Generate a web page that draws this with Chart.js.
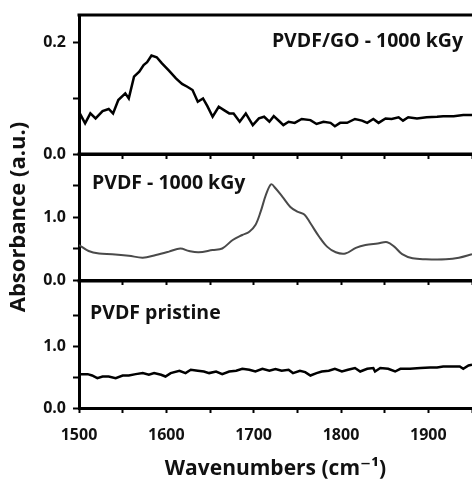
<!DOCTYPE html>
<html><head><meta charset="utf-8">
<script src="https://cdn.jsdelivr.net/npm/chart.js@4/dist/chart.umd.min.js"></script>
<style>
html,body{margin:0;padding:0;background:#fff;}
#wrap{position:relative;width:472px;height:482px;overflow:hidden;background:#fff;}
.panel{position:absolute;left:0;top:0;width:472px;height:482px;}
</style></head><body>
<div id="wrap">
<div class="panel"><canvas id="c1"></canvas></div>
<div class="panel"><canvas id="c2"></canvas></div>
<div class="panel"><canvas id="c3"></canvas></div>
</div>
<script>
// ---- data ----
const xTickValues = [1500,1550,1600,1650,1700,1750,1800,1850,1900,1950];
const xTickLabels = [1500,1600,1700,1800,1900];

const goLabel = 'PVDF/GO - 1000 kGy';
const goWn  = [1500,1502,1507,1513,1519,1527,1534,1539,1545,1553,1557,1563,1569,1574,1578,1583,1589,1595,1603,1611,1618,1624,1630,1636,1642,1647,1653,1660,1666,1672,1677,1684,1691,1699,1706,1712,1718,1723,1730,1734,1740,1747,1755,1765,1772,1780,1788,1793,1799,1807,1816,1824,1830,1837,1843,1851,1858,1866,1871,1877,1887,1898,1910,1917,1929,1940,1950];
const goAbs = [0.076,0.070,0.055,0.073,0.064,0.077,0.081,0.073,0.097,0.109,0.100,0.139,0.148,0.160,0.165,0.177,0.174,0.163,0.150,0.136,0.126,0.121,0.115,0.094,0.100,0.086,0.067,0.085,0.079,0.073,0.073,0.058,0.073,0.052,0.064,0.067,0.058,0.068,0.058,0.052,0.058,0.056,0.063,0.061,0.054,0.058,0.056,0.050,0.056,0.056,0.063,0.060,0.056,0.063,0.056,0.064,0.063,0.066,0.060,0.066,0.064,0.066,0.067,0.068,0.068,0.070,0.070];
const goYTicks = [0, 0.1, 0.2];
const goYLabels = [0, 0.2];

const irrLabel = 'PVDF - 1000 kGy';
const irrWn  = [1500,1511,1523,1538,1557,1573,1588,1603,1616,1626,1637,1653,1664,1676,1687,1695,1702,1708,1714,1720,1725,1733,1742,1750,1758,1765,1775,1784,1794,1805,1817,1828,1842,1853,1861,1870,1882,1897,1920,1935,1950];
const irrAbs = [0.556,0.46,0.42,0.41,0.386,0.354,0.397,0.45,0.50,0.46,0.44,0.476,0.50,0.635,0.714,0.767,0.873,1.085,1.35,1.52,1.456,1.32,1.16,1.085,1.04,0.90,0.687,0.53,0.44,0.42,0.51,0.556,0.58,0.60,0.53,0.41,0.344,0.33,0.33,0.354,0.41];
const irrYTicks = [0, 0.5, 1.0, 1.5];
const irrYLabels = [0, 1.0];

const prLabel = 'PVDF pristine';
const prWn  = [1500,1502,1510,1515,1521,1527,1534,1542,1550,1557,1565,1573,1580,1586,1594,1599,1605,1615,1622,1628,1636,1643,1649,1657,1664,1672,1680,1687,1695,1702,1710,1718,1725,1732,1740,1745,1753,1759,1765,1772,1778,1786,1793,1801,1808,1816,1822,1830,1837,1839,1845,1854,1862,1868,1879,1891,1902,1910,1917,1927,1936,1940,1946,1950];
const prAbs = [0.55,0.552,0.552,0.530,0.487,0.513,0.513,0.487,0.530,0.530,0.552,0.569,0.541,0.569,0.541,0.513,0.569,0.607,0.569,0.623,0.607,0.595,0.569,0.595,0.552,0.595,0.607,0.639,0.623,0.595,0.639,0.607,0.635,0.607,0.623,0.569,0.607,0.585,0.530,0.569,0.595,0.607,0.639,0.595,0.623,0.651,0.595,0.639,0.651,0.595,0.651,0.639,0.595,0.639,0.639,0.651,0.661,0.661,0.677,0.677,0.677,0.639,0.693,0.705];
const prYTicks = [0, 0.5, 1.0, 1.5];
const prYLabels = [0, 1.0];

const xTitle = 'Wavenumbers (cm\u207B\u00B9)';
const yTitle = 'Absorbance (a.u.)';

// ---- rendering ----
const FAMILY = '"Open Sans", "DejaVu Sans", sans-serif';
const INK = '#111';

const framePlugin = {
  id: 'frameTop',
  afterDatasetsDraw(chart) {
    const a = chart.chartArea, ctx = chart.ctx;
    ctx.save();
    ctx.strokeStyle = '#000';
    ctx.lineWidth = 3;
    ctx.beginPath();
    ctx.moveTo(a.left - 1.5, a.top);
    ctx.lineTo(a.right, a.top);
    ctx.stroke();
    ctx.restore();
  }
};
const labelPlugin = {
  id: 'panelText',
  afterDatasetsDraw(chart, args, opts) {
    if (!opts || !opts.text) return;
    const a = chart.chartArea, ctx = chart.ctx;
    ctx.save();
    ctx.fillStyle = INK;
    ctx.font = 'bold ' + opts.size + 'px ' + FAMILY;
    ctx.textAlign = opts.align;
    ctx.textBaseline = 'middle';
    const x = opts.align === 'right' ? a.right - opts.dx : a.left + opts.dx;
    ctx.fillText(opts.text, x, a.top + opts.dy);
    ctx.restore();
  }
};

function makePanel(id, cfg) {
  const pts = cfg.wn.map((w, i) => ({x: w, y: cfg.abs[i]}));
  return new Chart(document.getElementById(id), {
    type: 'line',
    data: { datasets: [{ data: pts, borderColor: cfg.color, borderWidth: cfg.lw, pointRadius: 0, pointHoverRadius: 0, tension: cfg.tension, fill: false }] },
    options: {
      responsive: true, maintainAspectRatio: false, animation: false, events: [],
      layout: { autoPadding: false, padding: { left: 0, right: 0, top: cfg.top, bottom: cfg.padBottom } },
      plugins: {
        legend: { display: false }, tooltip: { enabled: false },
        panelText: { text: cfg.label, align: cfg.labelAlign, dx: cfg.labelDx, dy: cfg.labelDy, size: cfg.labelSize }
      },
      scales: {
        x: {
          type: 'linear', min: 1500, max: 1950,
          afterBuildTicks: s => { s.ticks = xTickValues.map(v => ({value: v})); },
          grid: { drawOnChartArea: false, drawTicks: true, tickLength: 5, tickWidth: 2, tickColor: '#000' },
          border: { display: true, color: '#000', width: 3 },
          ticks: { autoSkip: false, maxRotation: 0, minRotation: 0, padding: 13, color: INK,
                   font: { family: FAMILY, size: 16, weight: 'bold' },
                   callback: v => (cfg.showX && xTickLabels.includes(v)) ? String(v) : '' },
          title: { display: cfg.showX, text: xTitle, color: INK, padding: {top: 0, bottom: 0},
                   font: { family: FAMILY, size: 21, weight: 'bold' } },
          afterFit: s => { s.height = cfg.xh; s.paddingLeft = 0; s.paddingRight = 0; }
        },
        y: {
          min: 0, max: cfg.ymax,
          afterBuildTicks: s => { s.ticks = cfg.yTicks.map(v => ({value: v})); },
          grid: { drawOnChartArea: false, drawTicks: true, tickLength: 6, tickWidth: 2, tickColor: '#000' },
          border: { display: true, color: '#000', width: 3 },
          ticks: { autoSkip: false, padding: 7, color: INK,
                   font: { family: FAMILY, size: 16, weight: 'bold' },
                   callback: v => cfg.yLabels.includes(v) ? v.toFixed(1) : '' },
          title: { display: cfg.showY, text: yTitle, color: INK, padding: {top: 6, bottom: 0},
                   font: { family: FAMILY, size: 22, weight: 'bold' } },
          afterFit: s => { s.width = 79; s.paddingTop = 0; s.paddingBottom = 0; }
        }
      }
    },
    plugins: [framePlugin, labelPlugin]
  });
}

makePanel('c1', { wn: goWn, abs: goAbs, color: '#000', lw: 2.5, tension: 0,
  top: 15, padBottom: 482 - 154 - 6, xh: 6, ymax: 0.25, yTicks: goYTicks, yLabels: goYLabels,
  showX: false, showY: false, label: goLabel, labelAlign: 'right', labelDx: 9, labelDy: 26, labelSize: 19.5 });
makePanel('c2', { wn: irrWn, abs: irrAbs, color: '#4a4a4a', lw: 2, tension: 0.35,
  top: 154, padBottom: 482 - 280 - 6, xh: 6, ymax: 2.0, yTicks: irrYTicks, yLabels: irrYLabels,
  showX: false, showY: true, label: irrLabel, labelAlign: 'left', labelDx: 13, labelDy: 29, labelSize: 19.5 });
makePanel('c3', { wn: prWn, abs: prAbs, color: '#000', lw: 2.5, tension: 0,
  top: 281, padBottom: 0, xh: 74, ymax: 2.07, yTicks: prYTicks, yLabels: prYLabels,
  showX: true, showY: false, label: prLabel, labelAlign: 'left', labelDx: 11, labelDy: 32, labelSize: 19.5 });
</script>
</body></html>
